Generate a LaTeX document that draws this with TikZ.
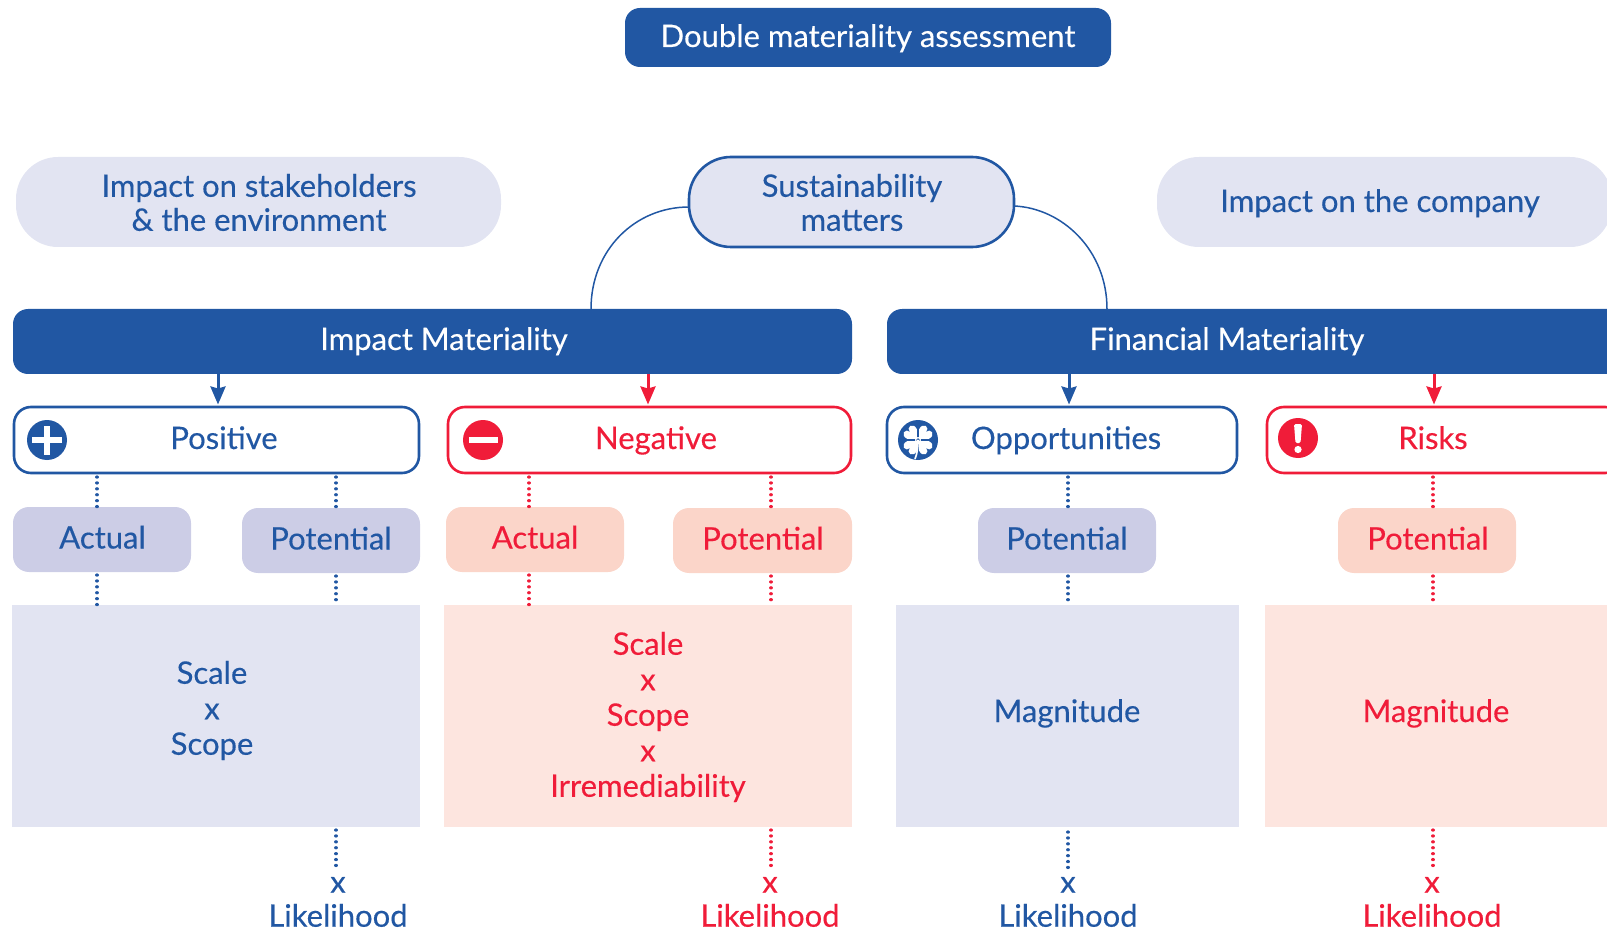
\documentclass[tikz,border=0pt]{standalone}
\usepackage{fontspec}
\setmainfont{Lato}[FakeBold=0.3]
\usetikzlibrary{arrows.meta,calc}
\definecolor{bl}{HTML}{2157A3}
\definecolor{rd}{HTML}{F01C39}
\definecolor{lbl}{HTML}{E2E4F2}
\definecolor{pbl}{HTML}{CCCDE6}
\definecolor{lrd}{HTML}{FDE5DF}
\definecolor{prd}{HTML}{FBD5C9}
\tikzset{
 x=1pt,y=-1pt,
 shp/.style={inner sep=0pt,outer sep=0pt,line width=2.6pt},
 txt/.style={font=\fontsize{31}{34}\selectfont,align=center,inner sep=0pt,outer sep=0pt},
 biglines/.style={font=\fontsize{31}{35.5}\selectfont},
 solidbl/.style={fill=bl,rounded corners=15pt},
 pillsoft/.style={fill=lbl,rounded corners=42pt},
 susbox/.style={fill=lbl,draw=bl,rounded corners=42pt},
 catbl/.style={draw=bl,fill=white,rounded corners=17pt},
 catrd/.style={draw=rd,fill=white,rounded corners=17pt},
 subbl/.style={fill=pbl,rounded corners=16pt},
 subrd/.style={fill=prd,rounded corners=16pt},
 bigbl/.style={fill=lbl},
 bigrd/.style={fill=lrd},
 dotbl/.style={draw=bl,line width=3.2pt,line cap=round,dash pattern=on 0.1pt off 5.8pt},
 dotrd/.style={draw=rd,line width=3.2pt,line cap=round,dash pattern=on 0.1pt off 5.8pt},
 arr/.style={line width=3pt,-{Stealth[length=18pt,width=15pt,inset=2pt]}},
 icon/.style={circle,inner sep=0pt,outer sep=0pt,minimum size=40pt},
}
% style, name, x1,y1,x2,y2
\newcommand{\bx}[6]{\node[shp,#1,minimum width={(#5-#3)*1pt},minimum height={(#6-#4)*1pt}] (#2) at ({(#3+#5)/2},{(#4+#6)/2}) {};}
% name,x,y,colour,text
\newcommand{\tb}[5]{\node[txt,anchor=base,text=#4] (#1) at (#2,#3) {#5};}
\newcommand{\tc}[5]{\node[txt,text=#4] (#1) at (#2,#3) {#5};}
\newcommand{\tl}[5]{\node[txt,biglines,text=#4] (#1) at (#2,#3) {#5};}
\begin{document}
\begin{tikzpicture}
\useasboundingbox (0,0) rectangle (1607,933);
% top
\bx{solidbl}{title}{625}{8}{1111}{67}
\tb{titleT}{868}{47}{white}{Double materiality assessment}
\bx{susbox}{sus}{689}{157}{1014}{247}
\tc{susT}{852}{202.5}{bl}{Sustainability\\matters}
\bx{pillsoft}{stk}{16}{157}{501}{247}
\tc{stkT}{259}{202.5}{bl}{Impact on stakeholders\\\& the environment}
\bx{pillsoft}{cmp}{1157}{157}{1612}{247}
\tb{cmpT}{1380}{212}{bl}{Impact on the company}
% bars
\bx{solidbl}{imp}{13}{309}{852}{374}
\tb{impT}{444}{350}{white}{Impact Materiality}
\bx{solidbl}{fin}{887}{309}{1625}{374}
\tb{finT}{1227}{350}{white}{Financial Materiality}
\coordinate (cl) at (591,0);
\coordinate (cr) at (1107,0);
\draw[bl,line width=1.5pt] ($(sus.west)+(0,5)$) .. controls (635,207) and (591,250) .. (cl|-imp.north);
\draw[bl,line width=1.5pt] ($(sus.east)+(0,4)$) .. controls (1062,208) and (1107,250) .. (cr|-fin.north);
% category boxes
\bx{catbl}{pos}{14}{407}{419}{473}
\tb{posT}{224}{449}{bl}{Positive}
\bx{catrd}{neg}{448}{407}{851}{473}
\tb{negT}{656}{449}{rd}{Negative}
\bx{catbl}{opp}{887}{407}{1237}{473}
\tb{oppT}{1066}{449}{bl}{Opportunities}
\bx{catrd}{rsk}{1267}{407}{1622}{473}
\tb{rskT}{1433}{449}{rd}{Risks}
% arrows
\coordinate (a1) at (218,0); \coordinate (a2) at (648,0); \coordinate (a3) at (1069,0); \coordinate (a4) at (1434,0);
\draw[arr,bl] (a1|-imp.south) -- ($(a1|-pos.north)+(0,-2.5)$);
\draw[arr,rd] (a2|-imp.south) -- ($(a2|-neg.north)+(0,-2.5)$);
\draw[arr,bl] (a3|-fin.south) -- ($(a3|-opp.north)+(0,-2.5)$);
\draw[arr,rd] (a4|-fin.south) -- ($(a4|-rsk.north)+(0,-2.5)$);
% icons
\node[icon,fill=bl] (icoP) at (47,440) {};
\fill[white] (43.7,425.5) rectangle (50.3,455);
\fill[white] (32,436.7) rectangle (62,443.3);
\node[icon,fill=rd] (icoM) at (483,440) {};
\fill[white] (469,436.7) rectangle (498,443.3);
\node[icon,fill=bl] (icoC) at (918,440) {};
\begin{scope}[shift={(icoC.center)}]
\foreach \a in {45,135,225,315}{
 \fill[white,rotate=\a] (0,-1) .. controls (-7,-4) and (-10,-14) .. (-4.5,-15.5) .. controls (-2,-16) and (0,-14) .. (0,-11.5) .. controls (0,-14) and (2,-16) .. (4.5,-15.5) .. controls (10,-14) and (7,-4) .. (0,-1) -- cycle;
}
\foreach \a in {0,90,180,270}{
 \draw[bl,line width=1.1pt,rotate=\a] (0,-3) -- (0,-12);
}
\draw[white,line width=1.7pt] (0,0) .. controls (0,8) and (-1,14) .. (-3,19);
\end{scope}
\node[icon,fill=rd] (icoE) at (1298,438) {};
\fill[white,rounded corners=1.5pt] (1294,424) -- (1302,424) -- (1300.5,443) -- (1295.5,443) -- cycle;
\fill[white] (1298,449.5) circle (3.6);
% sub-categories
\bx{subbl}{actB}{13}{507}{191}{572}
\tb{actBT}{102.5}{548.5}{bl}{Actual}
\bx{subbl}{potB}{242}{508}{420}{573}
\tb{potBT}{331}{549.5}{bl}{Potential}
\bx{subrd}{actR}{446}{507}{624}{572}
\tb{actRT}{535}{548.5}{rd}{Actual}
\bx{subrd}{potR}{673}{508}{852}{573}
\tb{potRT}{763}{549.5}{rd}{Potential}
\bx{subbl}{potO}{978}{508}{1156}{573}
\tb{potOT}{1067}{549.5}{bl}{Potential}
\bx{subrd}{potK}{1338}{508}{1516}{573}
\tb{potKT}{1428}{549.5}{rd}{Potential}
% large boxes
\bx{bigbl}{bigP}{12}{605}{420}{827}
\tl{bigPT}{212}{710.5}{bl}{Scale\\x\\Scope}
\bx{bigrd}{bigN}{444}{605}{852}{827}
\tl{bigNT}{648}{717}{rd}{Scale\\x\\Scope\\x\\Irremediability}
\bx{bigbl}{bigO}{896}{605}{1239}{827}
\tb{bigOT}{1067}{722}{bl}{Magnitude}
\bx{bigrd}{bigK}{1265}{605}{1625}{827}
\tb{bigKT}{1436}{722}{rd}{Magnitude}
% likelihood
\tc{likP}{338}{902}{bl}{x\\Likelihood}
\tc{likN}{770}{902}{rd}{x\\Likelihood}
\tc{likO}{1068}{902}{bl}{x\\Likelihood}
\tc{likK}{1432}{902}{rd}{x\\Likelihood}
% dotted connectors
\coordinate (d1) at (97,0); \coordinate (d2) at (336,0); \coordinate (d3) at (529,0);
\coordinate (d4) at (771,0); \coordinate (d5) at (1068,0); \coordinate (d6) at (1433,0);
\draw[dotbl] ($(d1|-pos.south)+(0,4)$) -- (d1|-actB.north);
\draw[dotbl] ($(d2|-pos.south)+(0,4)$) -- (d2|-potB.north);
\draw[dotrd] ($(d3|-neg.south)+(0,4)$) -- (d3|-actR.north);
\draw[dotrd] ($(d4|-neg.south)+(0,4)$) -- (d4|-potR.north);
\draw[dotbl] ($(d5|-opp.south)+(0,4)$) -- (d5|-potO.north);
\draw[dotrd] ($(d6|-rsk.south)+(0,4)$) -- (d6|-potK.north);
\draw[dotbl] ($(d1|-actB.south)+(0,3)$) -- (d1|-bigP.north);
\draw[dotbl] ($(d2|-potB.south)+(0,3)$) -- (d2|-bigP.north);
\draw[dotrd] ($(d3|-actR.south)+(0,3)$) -- (d3|-bigN.north);
\draw[dotrd] ($(d4|-potR.south)+(0,3)$) -- (d4|-bigN.north);
\draw[dotbl] ($(d5|-potO.south)+(0,3)$) -- (d5|-bigO.north);
\draw[dotrd] ($(d6|-potK.south)+(0,3)$) -- (d6|-bigK.north);
\draw[dotbl] ($(d2|-bigP.south)+(0,3)$) -- ($(d2|-likP.north)+(0,-7)$);
\draw[dotrd] ($(d4|-bigN.south)+(0,3)$) -- ($(d4|-likN.north)+(0,-7)$);
\draw[dotbl] ($(d5|-bigO.south)+(0,5)$) -- ($(d5|-likO.north)+(0,-7)$);
\draw[dotrd] ($(d6|-bigK.south)+(0,3)$) -- ($(d6|-likK.north)+(0,-7)$);
\end{tikzpicture}
\end{document}
